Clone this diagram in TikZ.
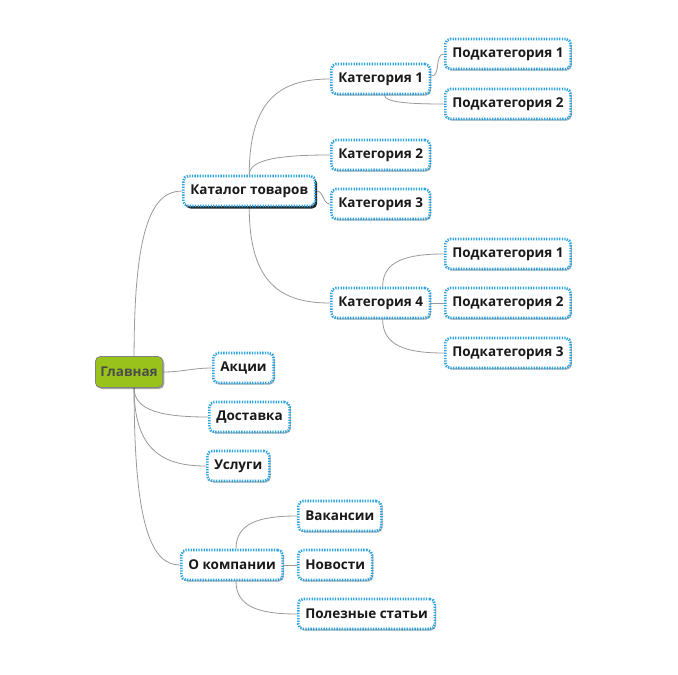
\documentclass[tikz,border=0pt]{standalone}
\usepackage{fontspec}
\setmainfont{Open Sans}
\usetikzlibrary{calc,shadows,backgrounds}
\definecolor{dotblue}{HTML}{2AA3E0}
\definecolor{leaf}{HTML}{99C31B}
\definecolor{linegray}{HTML}{9A9A9A}
\begin{document}
\begin{tikzpicture}[x=1pt,y=-1pt,
  topic/.style={draw=dotblue, line width=2.6pt, dash pattern=on 1.3pt off 1.3pt,
    rounded corners=5pt, fill=white, font=\bfseries\fontsize{13.5}{15}\selectfont,
    text=black!90, inner xsep=7pt, minimum height=30pt, anchor=west,
    drop shadow={shadow xshift=1.2pt, shadow yshift=-1.5pt, opacity=0.3, fill=black}},
  darkshadow/.style={drop shadow={shadow xshift=2pt, shadow yshift=-2.5pt, opacity=0.85, fill=black}},
  root/.style={draw=gray, line width=0.8pt, rounded corners=5pt, fill=leaf,
    font=\bfseries\fontsize{13.5}{15}\selectfont, text=black!70, inner xsep=5pt,
    minimum height=31pt, anchor=west,
    drop shadow={shadow xshift=1.5pt, shadow yshift=-1.5pt, opacity=0.35, fill=black}},
  conn/.style={draw=linegray, line width=0.8pt},
  branch/.style={to path={.. controls ($(\tikztostart)!0.8!(\tikztostart|-\tikztotarget)$) and ($(\tikztotarget)!0.6!(\tikztostart|-\tikztotarget)$) .. (\tikztotarget)}}
]
\useasboundingbox (0,0) rectangle (678,675);

\node[root] (G) at (95,372) {Главная};
\node[topic,darkshadow] (Kat) at (182,191) {Каталог товаров};
\node[topic] (K1) at (330,79) {Категория 1};
\node[topic] (P11) at (444,54) {Подкатегория 1};
\node[topic] (P12) at (444,104) {Подкатегория 2};
\node[topic] (K2) at (330,155) {Категория 2};
\node[topic] (K3) at (330,204) {Категория 3};
\node[topic] (K4) at (330,303) {Категория 4};
\node[topic] (P41) at (444,254) {Подкатегория 1};
\node[topic] (P42) at (444,303) {Подкатегория 2};
\node[topic] (P43) at (444,353) {Подкатегория 3};
\node[topic] (A) at (212,368) {Акции};
\node[topic] (D) at (208,417) {Доставка};
\node[topic] (U) at (206,466) {Услуги};
\node[topic] (O) at (180,565) {О компании};
\node[topic] (V) at (297,516) {Вакансии};
\node[topic] (N) at (297,565) {Новости};
\node[topic] (PS) at (297,614) {Полезные статьи};

\coordinate (Gt) at ([xshift=5pt]G.north);
\coordinate (Gb) at ([xshift=5pt]G.south);
\coordinate (Katt) at (Kat.north);
\coordinate (Katb) at (Kat.south);
\coordinate (K1b) at ([xshift=4pt]K1.south);
\coordinate (K1r) at ([yshift=3pt]K1.east);
\coordinate (K4t) at ([xshift=2pt]K4.north);
\coordinate (K4b) at ([xshift=2pt]K4.south);
\coordinate (Ot) at ([xshift=4pt]O.north);
\coordinate (Ob) at ([xshift=4pt]O.south);

\begin{pgfonlayer}{background}
\fill[white] (0,0) rectangle (678,675);
\draw[conn] (Gt) to[branch] (Kat.west);
\draw[conn] (G.east) to[out=0,in=180] (A.west);
\draw[conn] (Gb) to[branch] (D.west);
\draw[conn] (Gb) to[branch] (U.west);
\draw[conn] (Gb) to[branch] (O.west);
\draw[conn] (Katt) to[branch] (K1.west);
\draw[conn] (Katt) to[branch] (K2.west);
\draw[conn] (Kat.east) to[out=0,in=180] (K3.west);
\draw[conn] (Katb) to[branch] (K4.west);
\draw[conn] (K1r) to[out=0,in=180] (P11.west);
\draw[conn] (K1b) to[branch] (P12.west);
\draw[conn] (K4t) to[branch] (P41.west);
\draw[conn] (K4.east) -- (P42.west);
\draw[conn] (K4b) to[branch] (P43.west);
\draw[conn] (Ot) to[branch] (V.west);
\draw[conn] (O.east) -- (N.west);
\draw[conn] (Ob) to[branch] (PS.west);
\end{pgfonlayer}
\end{tikzpicture}
\end{document}
